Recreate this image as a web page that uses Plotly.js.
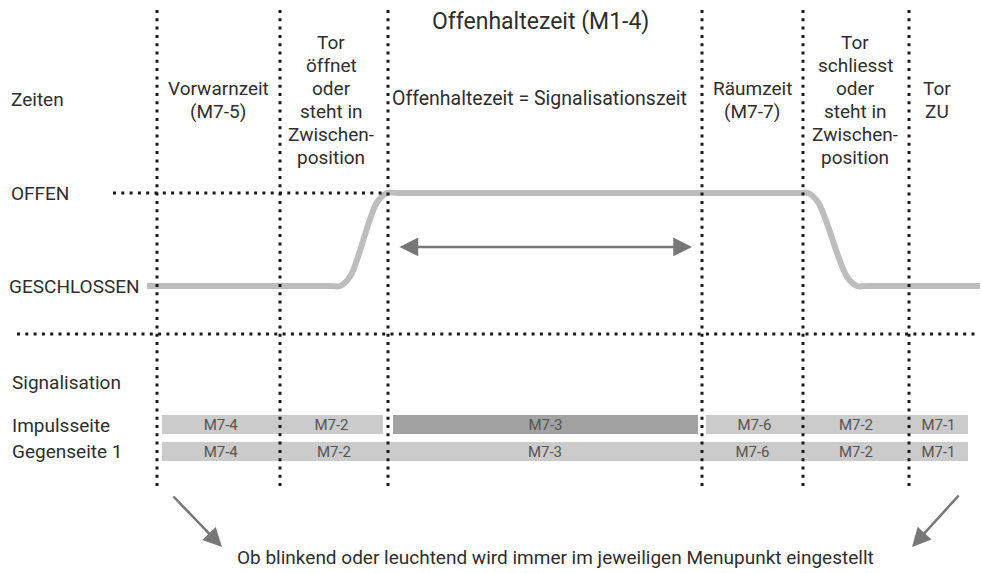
<!DOCTYPE html>
<html>
<head>
<meta charset="utf-8">
<script src="https://cdn.plot.ly/plotly-3.0.1.min.js"></script>
<style>html,body{margin:0;padding:0;background:#fff;}#chart{width:982px;height:573px;}</style>
</head>
<body>
<div id="chart"></div>
<script>
// ---- data ----
const phaseBounds = [157, 280, 388, 702, 803, 909];          // phase change times
const doorTime  = [147, 330, 340, 350, 377, 387, 397, 798, 808, 818, 847, 857, 867, 980];
const doorLevel = [0, 0, 0, 0.1, 0.9, 1, 1, 1, 1, 0.9, 0.1, 0, 0, 0];   // 0 = GESCHLOSSEN, 1 = OFFEN
const rowNames = ['Impulsseite', 'Gegenseite 1'];
const impStart = [162, 280, 393, 706, 803, 909];
const impEnd   = [280, 383, 698, 803, 909, 968];
const impLabels = ['M7-4', 'M7-2', 'M7-3', 'M7-6', 'M7-2', 'M7-1'];
const impActive = [false, false, true, false, false, false];
const gegStart = [162, 280, 388, 702, 803, 909];
const gegEnd   = [280, 388, 702, 803, 909, 968];
const gegLabels = ['M7-4', 'M7-2', 'M7-3', 'M7-6', 'M7-2', 'M7-1'];
const holdArrow = [398, 692];                                  // Offenhaltezeit span
const columnTexts = [
  {x: 218, lines: ['Vorwarnzeit', '(M7-5)']},
  {x: 331, lines: ['Tor', 'öffnet', 'oder', 'steht in', 'Zwischen-', 'position']},
  {x: 539, lines: ['Offenhaltezeit = Signalisationszeit']},
  {x: 752, lines: ['Räumzeit', '(M7-7)']},
  {x: 855, lines: ['Tor', 'schliesst', 'oder', 'steht in', 'Zwischen-', 'position']},
  {x: 937, lines: ['Tor', 'ZU']}
];
const titleText = 'Offenhaltezeit (M1-4)';
const footText = 'Ob blinkend oder leuchtend wird immer im jeweiligen Menupunkt eingestellt';

// ---- layout helpers ----
const W = 982, H = 573;
const FONT = 'Roboto, "Liberation Sans", Arial, sans-serif';
const TXT = '#2e2e2e';
const py = p => 1 - p / H;   // pixel row -> paper y

const LIGHT = '#cbcbcb', DARK = '#a2a2a2';

const traces = [
  {
    type: 'scatter', mode: 'lines', x: doorTime, y: doorLevel,
    line: {color: '#bdbdbd', width: 6, shape: 'spline', smoothing: 1},
    hoverinfo: 'skip', showlegend: false
  },
  {
    type: 'bar', orientation: 'h', xaxis: 'x', yaxis: 'y2',
    y: impStart.map(() => rowNames[0]),
    base: impStart, x: impStart.map((s, i) => impEnd[i] - s),
    width: 0.7,
    marker: {color: impActive.map(a => a ? DARK : LIGHT), line: {width: 0}},
    text: impLabels, textposition: 'inside', insidetextanchor: 'middle', textangle: 0,
    constraintext: 'none', cliponaxis: false,
    textfont: {family: FONT, size: 15, color: '#555'},
    hoverinfo: 'skip', showlegend: false
  },
  {
    type: 'bar', orientation: 'h', xaxis: 'x', yaxis: 'y2',
    y: gegStart.map(() => rowNames[1]),
    base: gegStart, x: gegStart.map((s, i) => gegEnd[i] - s),
    width: 0.7,
    marker: {color: LIGHT, line: {width: 0}},
    text: gegLabels, textposition: 'inside', insidetextanchor: 'middle', textangle: 0,
    constraintext: 'none', cliponaxis: false,
    textfont: {family: FONT, size: 15, color: '#555'},
    hoverinfo: 'skip', showlegend: false
  }
];

const dotLine = {color: '#1a1a1a', width: 3, dash: '3px,5.3px'};
const shapes = [];
phaseBounds.forEach(b => shapes.push({
  type: 'line', xref: 'x', yref: 'paper', x0: b, x1: b, y0: py(10), y1: py(489), line: dotLine
}));
shapes.push({type: 'line', xref: 'x', yref: 'y', x0: 113, x1: 384, y0: 1, y1: 1, line: dotLine});
shapes.push({type: 'line', xref: 'x', yref: 'paper', x0: 17, x1: 978, y0: py(334), y1: py(334), line: dotLine});

const ann = [];
function txt(x, yPix, text, size, anchor) {
  ann.push({xref: 'x', yref: 'paper', x: x, y: py(yPix), text: text, showarrow: false,
    xanchor: anchor || 'center', yanchor: 'middle',
    font: {family: FONT, size: size || 19, color: TXT}});
}
txt(540, 22, titleText, 23);
columnTexts.forEach(c => {
  const n = c.lines.length, sp = 23, mid = 100;
  c.lines.forEach((l, i) => txt(c.x, mid + (i - (n - 1) / 2) * sp - (n === 1 ? 2 : 0), l, n === 1 ? 19.5 : 19));
});
txt(9, 99, 'Zeiten', 19, 'left');
txt(9, 193, 'OFFEN', 19, 'left');
txt(7, 286, 'GESCHLOSSEN', 19, 'left');
txt(10, 382, 'Signalisation', 19, 'left');
txt(10, 425, rowNames[0], 19, 'left');
txt(10, 451, rowNames[1], 19, 'left');
txt(555, 557, footText, 19);

// double arrow for Offenhaltezeit
ann.push({xref: 'x', yref: 'y', axref: 'x', ayref: 'y',
  x: holdArrow[1], y: 0.42, ax: holdArrow[0], ay: 0.42, text: '',
  showarrow: true, arrowhead: 2, startarrowhead: 2, arrowside: 'end+start',
  arrowsize: 1.5, startarrowsize: 1.5, arrowwidth: 2.5, arrowcolor: '#777'});
// bottom diagonal arrows
ann.push({xref: 'x', yref: 'paper', x: 222, y: py(547), ax: -50, ay: -52, axref: 'pixel', ayref: 'pixel',
  text: '', showarrow: true, arrowhead: 2, arrowsize: 1.5, arrowwidth: 2.5, arrowcolor: '#777'});
ann.push({xref: 'x', yref: 'paper', x: 912, y: py(547), ax: 48, ay: -53, axref: 'pixel', ayref: 'pixel',
  text: '', showarrow: true, arrowhead: 2, arrowsize: 1.5, arrowwidth: 2.5, arrowcolor: '#777'});

const layout = {
  width: W, height: H,
  margin: {l: 0, r: 0, t: 0, b: 0, pad: 0},
  paper_bgcolor: '#fff', plot_bgcolor: 'rgba(0,0,0,0)',
  showlegend: false,
  barmode: 'overlay',
  xaxis: {range: [0, W], visible: false, fixedrange: true},
  yaxis: {range: [(286 - H) / 93, 286 / 93], visible: false, fixedrange: true, domain: [0, 1]},
  yaxis2: {type: 'category', categoryarray: [rowNames[1], rowNames[0]], categoryorder: 'array',
    range: [-0.5, 1.5], domain: [py(465), py(411)], visible: false, fixedrange: true,
    anchor: 'x'},
  shapes: shapes,
  annotations: ann
};

Plotly.newPlot('chart', traces, layout, {staticPlot: true, displayModeBar: false});
</script>
</body>
</html>
